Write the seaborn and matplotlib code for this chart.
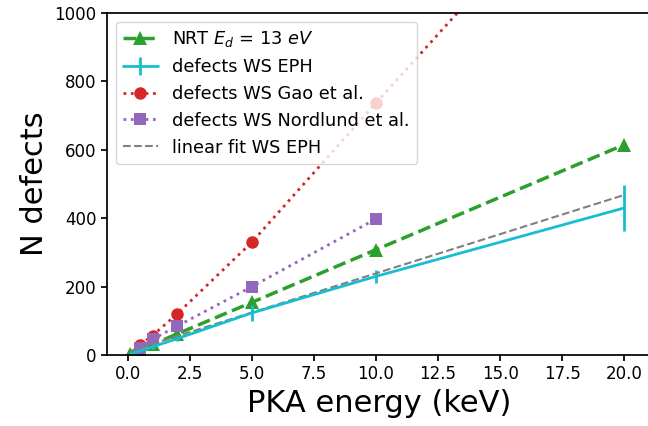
import numpy as np
import matplotlib
matplotlib.use("Agg")
import matplotlib.pyplot as plt
import seaborn as sns

# PKA energies (keV)
nrt_x = [0.1, 0.5, 1, 2, 5, 10, 20]
nrt_y = [3, 15, 31, 62, 154, 308, 615]

eph_x = [0.1, 0.5, 1, 2, 5, 10, 20]
eph_y = [3, 12, 24, 48, 123, 230, 430]
eph_err = [1, 3, 5, 8, 23, 20, 67]

gao_x = [0.5, 1, 2, 5, 10, 20]
gao_y = [30, 57, 121, 330, 737, 1541]

nord_x = [0.5, 1, 2, 5, 10]
nord_y = [20, 46, 85, 200, 398]

fit_x = [0.1, 20]
fit_y = [12, 468]

labels_order = [r'NRT $E_d$ = 13 $eV$', 'defects WS EPH', 'defects WS Gao et al.',
                'defects WS Nordlund et al.', 'linear fit WS EPH']

sns.set_style("ticks", {
    "axes.edgecolor": "black",
    "xtick.color": "black",
    "ytick.color": "black",
    "text.color": "black",
    "axes.labelcolor": "black",
})
plt.rcParams['font.family'] = ['DejaVu Sans']

fig = plt.figure(figsize=(6.48, 4.26), dpi=100)
ax = fig.add_axes([106.7 / 648, 71 / 426, (651.6 - 106.7) / 648, 342 / 426])

sns.lineplot(x=nrt_x, y=nrt_y, ax=ax, color='#2ca02c', linestyle='--', lw=2.5,
             marker='^', markersize=10, markeredgewidth=0,
             label=labels_order[0])
ax.errorbar(eph_x, eph_y, yerr=eph_err, color='#17becf', lw=2, elinewidth=2,
            capsize=0, label=labels_order[1])
sns.lineplot(x=gao_x, y=gao_y, ax=ax, color='#d62728', linestyle=':', lw=2,
             marker='o', markersize=9, markeredgewidth=0,
             label=labels_order[2])
sns.lineplot(x=nord_x, y=nord_y, ax=ax, color='#9467bd', linestyle=':', lw=2,
             marker='s', markersize=9, markeredgewidth=0,
             label=labels_order[3])
sns.lineplot(x=fit_x, y=fit_y, ax=ax, color='gray', linestyle='--', lw=1.5,
             label=labels_order[4])

ax.set_xlim(-0.85, 21.1)
ax.set_ylim(0, 1000)
ax.set_xticks(np.arange(0, 20.1, 2.5))
ax.set_xlabel('PKA energy (keV)', fontsize=22)
ax.set_ylabel('N defects', fontsize=22)
ax.tick_params(labelsize=12, width=1.25, length=4)
for s in ax.spines.values():
    s.set_linewidth(1.25)

# keep legend in plotting order (errorbar containers are listed last otherwise)
handles, labels = ax.get_legend_handles_labels()
lookup = dict(zip(labels, handles))
ax.legend([lookup[l] for l in labels_order], labels_order,
          loc='upper left', fontsize=12.8, framealpha=0.8)

fig.savefig('out.png', dpi=100)
